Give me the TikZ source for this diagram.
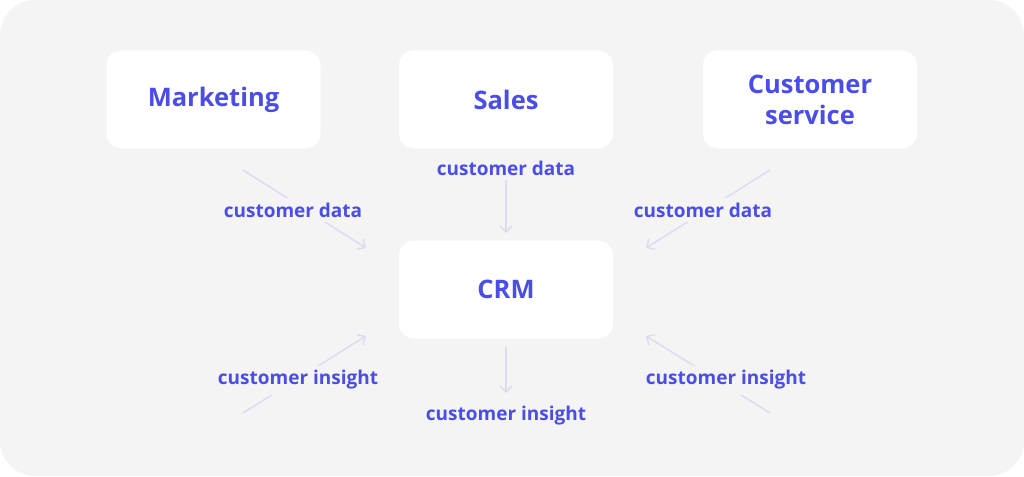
\documentclass[tikz,border=0pt]{standalone}
\usepackage{fontspec}
\setmainfont{Open Sans}
\usetikzlibrary{arrows.meta}
\definecolor{bg}{HTML}{F4F4F4}
\definecolor{txt}{HTML}{4A4DE6}
\definecolor{ln}{HTML}{DCDCF0}
\tikzset{
  box/.style={fill=white, rounded corners=15pt, minimum width=214pt, minimum height=98pt, inner sep=0pt, align=center, text=txt, font=\fontsize{25.5}{31}\selectfont\bfseries},
  lab/.style={fill=bg, inner sep=5pt, text=txt, font=\fontsize{19}{22}\selectfont\bfseries},
  arr/.style={draw=ln, line width=1.5pt, -{Straight Barb[length=6pt,width=12pt]}},
}
\begin{document}
\begin{tikzpicture}[x=1pt,y=-1pt]
\useasboundingbox (0,0) rectangle (1024,476);
\fill[bg, rounded corners=35pt] (0,0) rectangle (1024,476);
\node[box] (mkt) at (213.5,99.5) {Marketing};
\node[box] (sales) at (506,99.5) {Sales};
\node[box] (cs) at (810,99.5) {Customer\\service};
\node[box] (crm) at (506,289.5) {CRM};
\coordinate (a1s) at (243,170); \coordinate (a1e) at (366,248);
\coordinate (a2s) at (506,180); \coordinate (a2e) at (506,233);
\coordinate (a3s) at (770,170); \coordinate (a3e) at (646,248);
\coordinate (b1s) at (243,413); \coordinate (b1e) at (366,336);
\coordinate (b2s) at (506,347); \coordinate (b2e) at (506,393);
\coordinate (b3s) at (770,413); \coordinate (b3e) at (646,336);
\draw[arr] (a1s) -- (a1e);
\draw[arr] (a2s) -- (a2e);
\draw[arr] (a3s) -- (a3e);
\draw[arr] (b1s) -- (b1e);
\draw[arr] (b2s) -- (b2e);
\draw[arr] (b3s) -- (b3e);
\node[lab] (l1) at (293,210) {customer data};
\node[lab] (l2) at (506,168) {customer data};
\node[lab] (l3) at (703,210) {customer data};
\node[lab] (l4) at (298,380) {customer insight};
\node[lab] (l5) at (506,416) {customer insight};
\node[lab] (l6) at (726,380) {customer insight};
\end{tikzpicture}
\end{document}
